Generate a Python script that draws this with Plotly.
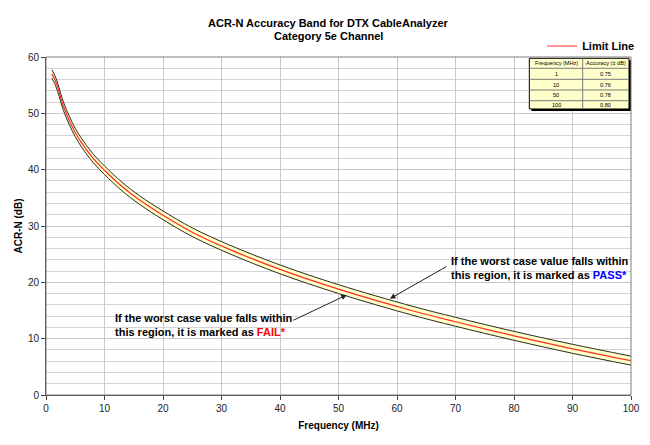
import plotly.graph_objects as go

# ---- data ----
freq = [1, 1.5, 2, 3, 4, 5, 6, 8, 10, 13, 16, 20, 25, 31.25, 40, 50, 62.5, 70, 80, 90, 100]
limit = [57.0, 56.0, 54.6, 51.2, 48.7, 46.6, 44.9, 42.1, 39.9, 37.0, 34.6, 31.9, 28.9, 25.9, 22.3, 18.8, 15.0, 13.0, 10.5, 8.2, 6.1]
accuracy = [0.75, 0.75, 0.75, 0.75, 0.75, 0.75, 0.76, 0.76, 0.76, 0.76, 0.76, 0.77, 0.77, 0.77, 0.78, 0.78, 0.79, 0.79, 0.79, 0.80, 0.80]

title_lines = ["ACR-N Accuracy Band for DTX CableAnalyzer", "Category 5e Channel"]
table_header = ["Frequency (MHz)", "Accuracy (± dB)"]
table_freq = ["1", "10", "50", "100"]
table_acc = ["0.75", "0.76", "0.78", "0.80"]

upper = [l + a for l, a in zip(limit, accuracy)]
lower = [l - a for l, a in zip(limit, accuracy)]

FONT = "Liberation Sans, Arial, sans-serif"
EDGE = "#2b2b22"

fig = go.Figure()
fig.add_trace(go.Scatter(x=freq, y=lower, mode="lines", line=dict(color=EDGE, width=1, shape="spline"),
                         showlegend=False, hoverinfo="skip"))
fig.add_trace(go.Scatter(x=freq, y=upper, mode="lines", line=dict(color=EDGE, width=1, shape="spline"),
                         fill="tonexty", fillcolor="#FFFFC8", showlegend=False, hoverinfo="skip"))
fig.add_trace(go.Scatter(x=freq, y=limit, mode="lines", name="<b>Limit Line</b>",
                         line=dict(color="#FF2A2A", width=1.2, shape="spline")))

# ---- accuracy table (drawn in plot-area paper coordinates) ----
tx0, tx1, tx2 = 0.8262, 0.9174, 0.9966
row_edges = [0.9962, 0.9666, 0.934, 0.9024, 0.8707, 0.8462]
shapes = []
shapes.append(dict(type="rect", xref="paper", yref="paper", x0=tx0 + 0.0034, x1=tx2 + 0.0034,
                   y0=row_edges[-1] - 0.006, y1=row_edges[0] - 0.006,
                   fillcolor="#000000", line=dict(width=0), layer="above"))
shapes.append(dict(type="rect", xref="paper", yref="paper", x0=tx0, x1=tx2,
                   y0=row_edges[-1], y1=row_edges[0],
                   fillcolor="#FFFFCC", line=dict(color="#000000", width=1), layer="above"))
for ry in row_edges[1:-1]:
    shapes.append(dict(type="line", xref="paper", yref="paper", x0=tx0, x1=tx2, y0=ry, y1=ry,
                       line=dict(color="#7a7a7a", width=1), layer="above"))
shapes.append(dict(type="line", xref="paper", yref="paper", x0=tx1, x1=tx1,
                   y0=row_edges[-1], y1=row_edges[0], line=dict(color="#7a7a7a", width=1), layer="above"))
# plot-area border
shapes.append(dict(type="rect", xref="paper", yref="paper", x0=0, x1=1, y0=0, y1=1,
                   line=dict(color="#7f7f7f", width=1), layer="above"))

cx = [(tx0 + tx1) / 2, (tx1 + tx2) / 2]
cy = [(row_edges[i] + row_edges[i + 1]) / 2 for i in range(len(row_edges) - 1)]
tfont = dict(family=FONT, size=5.6, color="#000000")
columns = [[table_header[0]] + table_freq, [table_header[1]] + table_acc]
for ci, col in enumerate(columns):
    for ri, val in enumerate(col):
        fig.add_annotation(x=cx[ci], y=cy[ri], xref="paper", yref="paper", text=val,
                           showarrow=False, font=tfont, xanchor="center", yanchor="middle")

# ---- title (two lines) ----
for txt, ty in zip(title_lines, [1.1006, 1.0607]):
    fig.add_annotation(x=0.483, y=ty, xref="paper", yref="paper", text="<b>" + txt + "</b>",
                       showarrow=False, xanchor="center", yanchor="middle",
                       font=dict(size=11, family=FONT, color="#000000"))

ann_font = dict(family=FONT, size=11, color="#000000")
fig.add_annotation(x=11.4, y=12.4, xref="x", yref="y", xanchor="left", yanchor="middle", align="left",
                   showarrow=False, font=ann_font,
                   text="<b>If the worst case value falls within<br>this region, it is marked as "
                        "<span style='color:#FF0000'>FAIL*</span></b>")
fig.add_annotation(x=68.9, y=22.5, xref="x", yref="y", xanchor="left", yanchor="middle", align="left",
                   showarrow=False, font=ann_font,
                   text="<b>If the worst case value falls within<br>this region, it is marked as "
                        "<span style='color:#0000FF'>PASS*</span></b>")
fig.add_annotation(x=51.4, y=17.75, xref="x", yref="y", text="", showarrow=True, ax=-55, ay=26,
                   arrowhead=2, arrowsize=1.1, arrowwidth=1, arrowcolor="#222222")
fig.add_annotation(x=58.8, y=17.1, xref="x", yref="y", text="", showarrow=True, ax=58, ay=-33,
                   arrowhead=2, arrowsize=1.1, arrowwidth=1, arrowcolor="#222222")

fig.update_layout(
    width=642, height=437,
    margin=dict(l=38, r=19, t=49, b=50, autoexpand=False),
    paper_bgcolor="white", plot_bgcolor="white",
    font=dict(family=FONT, size=10, color="#000000"),
    showlegend=True,
    legend=dict(x=0.832, y=0.913, xref="container", yref="container", xanchor="left", yanchor="middle",
                bgcolor="rgba(0,0,0,0)", font=dict(size=11, family=FONT, color="#000000"),
                itemwidth=30),
    shapes=shapes,
)
fig.update_xaxes(range=[0, 100], dtick=10, tick0=0, showgrid=True, gridcolor="#C8C8C8", gridwidth=1,
                 zeroline=False, showline=True, linecolor="#404040", linewidth=1, mirror=False,
                 ticks="outside", ticklen=4, tickcolor="#404040", automargin=False,
                 tickfont=dict(size=10, family=FONT, color="#222222"),
                 title=dict(text="<b>Frequency (MHz)</b>", font=dict(size=10, family=FONT), standoff=8))
fig.update_yaxes(range=[0, 60], dtick=10, tick0=0, showgrid=True, gridcolor="#C8C8C8", gridwidth=1,
                 minor=dict(dtick=2, showgrid=True, gridcolor="#D4D4D4", gridwidth=1),
                 zeroline=False, showline=True, linecolor="#404040", linewidth=1, mirror=False,
                 ticks="outside", ticklen=4, tickcolor="#404040", automargin=False,
                 tickfont=dict(size=10, family=FONT, color="#222222"),
                 title=dict(text="<b>ACR-N (dB)</b>", font=dict(size=10, family=FONT), standoff=3))

fig.write_html("out.html")
